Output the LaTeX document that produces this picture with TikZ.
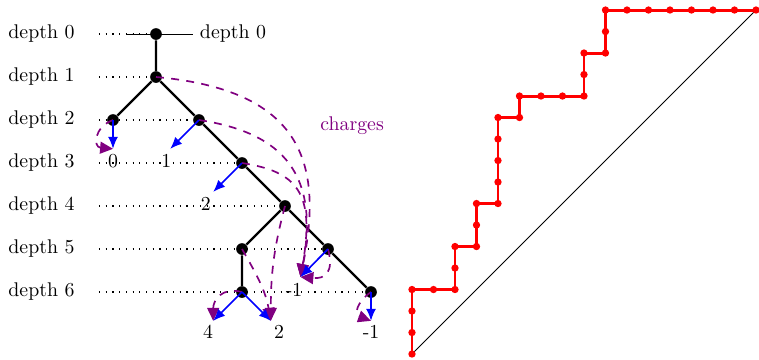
\documentclass[tikz,border=0pt]{standalone}
\usepackage{xcolor}
\usepackage{tikz}
\usetikzlibrary{arrows.meta, calc}
\definecolor{chg}{RGB}{128,0,128}

\begin{document}
\begin{tikzpicture}[x=21.7pt, y=21.7pt,
    vtx/.style={circle, fill=black, inner sep=0pt, minimum size=5.9pt},
    treeline/.style={line width=1.2pt},
    lvlline/.style={line width=0.6pt, dash pattern=on 0.6pt off 2.8pt},
    kid/.style={-{Latex[length=6pt,width=5pt]}, blue, line width=0.85pt},
    charge/.style={-{Triangle[length=6.5pt,width=6pt]}, chg, line width=0.85pt,
                   dash pattern=on 4pt off 3.7pt},
    depthlbl/.style={anchor=west, inner sep=0pt, text width=45.4pt, align=left},
    dyck/.style={red, line width=1.5pt}
  ]
  \useasboundingbox (-3.628,-7.558) rectangle (14.023,0.791);

  % tree
  \node[vtx] (n0) at (0,0) {};
  \node[vtx] (n1) at (0,-1) {};
  \node[vtx] (n2a) at (-1,-2) {};
  \node[vtx] (n2b) at (1,-2) {};
  \node[vtx] (n3) at (2,-3) {};
  \node[vtx] (n4) at (3,-4) {};
  \node[vtx] (n5a) at (2,-5) {};
  \node[vtx] (n5b) at (4,-5) {};
  \node[vtx] (n6a) at (2,-6) {};
  \node[vtx] (n6b) at (5,-6) {};

  % depth labels
  \foreach \d in {0,...,6}
    \node[depthlbl] (dl\d) at (-3.44,-\d) {depth \d};
  \foreach \d/\n in {0/n0, 1/n1, 2/n2b, 3/n3, 4/n4, 5/n5b, 6/n6b}
    \draw[lvlline] (dl\d.east) -- (\n);

  \coordinate (r0w) at (-0.67,0);
  \node[anchor=west] (dr0) at (0.86,0) {depth 0};
  \draw[thin] (r0w) -- (dr0.west);

  \draw[treeline] (n0) -- (n1) -- (n2b) -- (n3) -- (n4) -- (n5b) -- (n6b);
  \draw[treeline] (n1) -- (n2a);
  \draw[treeline] (n4) -- (n5a) -- (n6a);

  % missing children
  \coordinate (t2a) at ($(n2a)+(0,-0.67)$);
  \coordinate (t2b) at ($(n2b)+(-0.67,-0.67)$);
  \coordinate (t3) at ($(n3)+(-0.67,-0.67)$);
  \coordinate (t5b) at ($(n5b)+(-0.64,-0.65)$);
  \coordinate (t6a) at ($(n6a)+(-0.67,-0.67)$);
  \coordinate (t6c) at ($(n6a)+(0.67,-0.67)$);
  \coordinate (t6b) at ($(n6b)+(0,-0.67)$);

  \node (c2a) at ($(n2a)+(0,-0.95)$) {0};
  \node (c2b) at ($(n2b)+(-0.76,-0.95)$) {1};
  \node (c3) at ($(n3)+(-0.84,-0.95)$) {2};
  \node (c5b) at ($(n5b)+(-0.79,-0.95)$) {-1};
  \node (c6a) at ($(n6a)+(-0.79,-0.92)$) {4};
  \node (c6c) at ($(n6a)+(0.86,-0.92)$) {2};
  \node (c6b) at ($(n6b)+(0,-0.92)$) {-1};

  % charges
  \node[text=chg] (chglbl) at (4.56,-2.14) {charges};
  \draw[charge] (n1.center) .. controls (3.4,-1.3) and (3.9,-3) .. (t5b);
  \draw[charge] (n2b.center) .. controls (3.0,-2.3) and (3.8,-3.3) .. (t5b);
  \draw[charge] (n3.center) .. controls (3.3,-3.2) and (3.7,-3.7) .. (t5b);
  \draw[charge] (n5b.center) to[out=-75, in=-5, looseness=1.6] (t5b);
  \draw[charge] (n4.center) to[out=-105, in=90] (t6c);
  \draw[charge] (n5a.center) to[out=-60, in=100] (t6c);
  \draw[charge] (n6a.center) to[out=165, in=90, looseness=1.3] (t6a);
  \draw[charge] (n2a.center) to[out=200, in=175, looseness=1.8] (t2a);
  \draw[charge] (n6b.center) to[out=215, in=160, looseness=1.6] (t6b);

  \foreach \n/\t in {n2a/t2a, n2b/t2b, n3/t3, n5b/t5b, n6a/t6a, n6a/t6c, n6b/t6b}
    \draw[kid] (\n.center) -- (\t);

  % Dyck path
  \begin{scope}[shift={(5.953,-7.442)}, x=10.85pt, y=10.85pt]
    \draw[thin] (0,0) -- (16,16);
    \draw[dyck] (0,0) |- (2,3) |- (3,5) |- (4,7) |- (5,11) |- (8,12) |- (9,14) |- (16,16);
    \foreach \p in {(0,0),(0,1),(0,2),(0,3),(1,3),(2,3),(2,4),(2,5),(3,5),(3,6),(3,7),
                    (4,7),(4,8),(4,9),(4,10),(4,11),(5,11),(5,12),(6,12),(7,12),(8,12),
                    (8,13),(8,14),(9,14),(9,15),(9,16),(10,16),(11,16),(12,16),(13,16),
                    (14,16),(15,16),(16,16)}
      \fill[red] \p circle (1.85pt);
  \end{scope}
\end{tikzpicture}
\end{document}
